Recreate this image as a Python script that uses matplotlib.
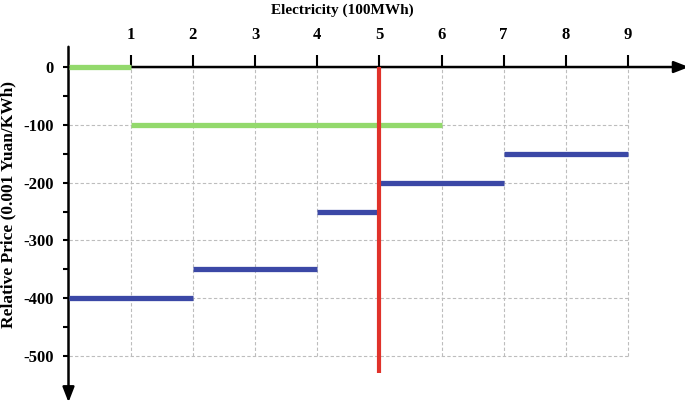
import matplotlib
matplotlib.use('Agg')
import matplotlib.pyplot as plt
import numpy as np

# step segments
green_start = [0, 1]
green_end = [1, 6]
green_price = [0, -100]

blue_start = [0, 2, 4, 5, 7]
blue_end = [2, 4, 5, 7, 9]
blue_price = [-400, -350, -250, -200, -150]

red_x = 5
red_bottom = -530

x_ticks = [1, 2, 3, 4, 5, 6, 7, 8, 9]
y_ticks = [0, -100, -200, -300, -400, -500]
y_minor = [-50, -150, -250, -350, -450]

plt.rcParams['font.family'] = ['Liberation Serif', 'DejaVu Serif']
plt.rcParams['font.weight'] = 'bold'

fig = plt.figure(figsize=(6.85, 4.01), dpi=100)
ax = fig.add_axes([0.1, 0.004, 0.8985, 0.8865])
ax.set_xlim(0, 9.9)
ax.set_ylim(-575, 40)

# dashed grid, limited to the data box
grid_kw = dict(colors='#bdbdbd', linestyles=(0, (3, 2)), linewidth=0.8, zorder=1)
ax.vlines(x_ticks, min(y_ticks), 0, **grid_kw)
ax.hlines(y_ticks[1:], 0, max(x_ticks), **grid_kw)

ax.hlines(green_price, green_start, green_end, colors='#93d96c', linewidth=3.8, zorder=3)
ax.hlines(blue_price, blue_start, blue_end, colors='#3b48a6', linewidth=3.8, zorder=3)
ax.vlines(red_x, red_bottom, 0, colors='#e0322a', linewidth=3.0, zorder=4)

# axes through the origin
for s in ['right', 'bottom']:
    ax.spines[s].set_visible(False)
ax.spines['top'].set_position(('data', 0))
ax.spines['left'].set_position(('data', 0))
ax.spines['top'].set_visible(False)
ax.spines['left'].set_visible(False)

ax.annotate('', xy=(9.98, 0), xytext=(0, 0),
            arrowprops=dict(arrowstyle='-|>,head_length=0.9,head_width=0.35',
                            color='black', lw=1.8, shrinkA=0, shrinkB=0),
            annotation_clip=False, zorder=2)
ax.annotate('', xy=(0, -580), xytext=(0, 35),
            arrowprops=dict(arrowstyle='-|>,head_length=0.9,head_width=0.35',
                            color='black', lw=1.8, shrinkA=0, shrinkB=0),
            annotation_clip=False, zorder=2)

ax.xaxis.tick_top()
ax.set_xticks(x_ticks)
ax.set_xticklabels([str(v) for v in x_ticks], fontsize=12, fontweight='bold')
ax.tick_params(axis='x', direction='out', length=9, width=1.5, pad=8)

ax.set_yticks(y_ticks)
ax.set_yticklabels([str(v) for v in y_ticks], fontsize=12, fontweight='bold')
ax.set_yticks(y_minor, minor=True)
ax.tick_params(axis='y', which='both', direction='out', length=4.5, width=1.5, pad=6)

fig.text(0.5, 0.975, 'Electricity (100MWh)', ha='center', va='center',
         fontsize=11, fontweight='bold')
fig.text(0.012, 0.489, 'Relative Price (0.001 Yuan/KWh)', ha='center', va='center',
         rotation=90, fontsize=12.5, fontweight='bold')

fig.savefig('out.png', dpi=100)
